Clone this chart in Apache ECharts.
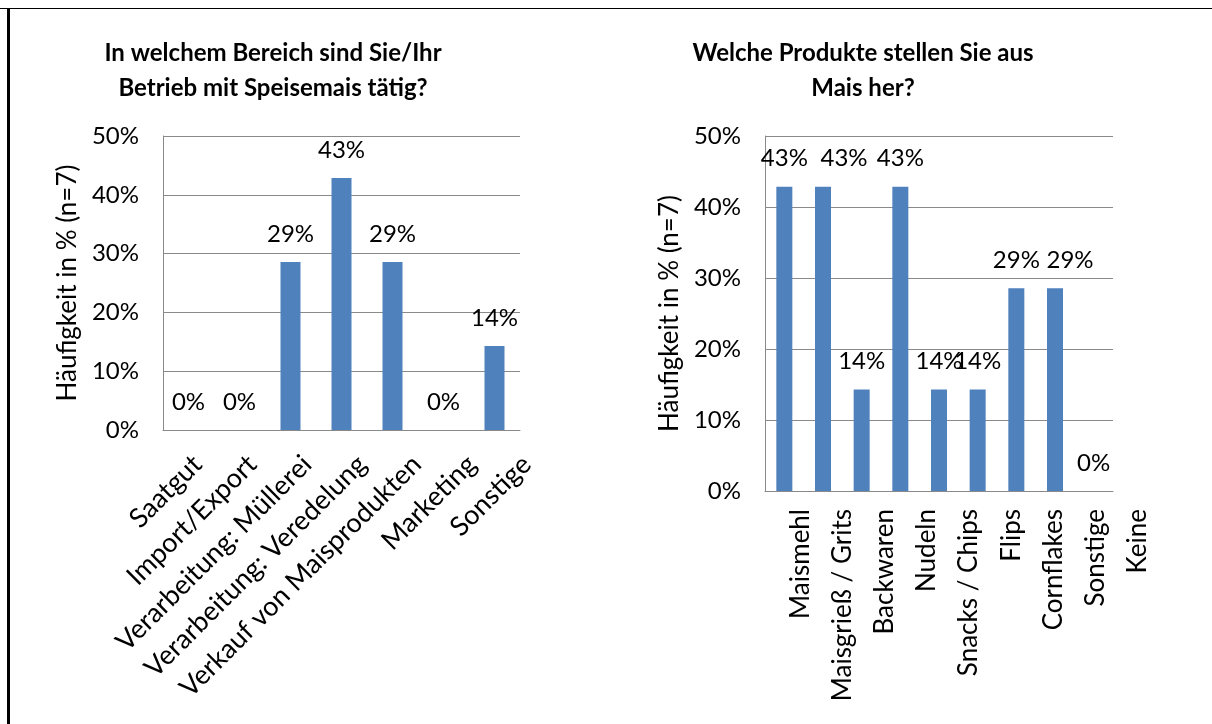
<!DOCTYPE html>
<html>
<head>
<meta charset="utf-8">
<script src="https://cdn.jsdelivr.net/npm/echarts@6/dist/echarts.min.js"></script>
<style>
  html, body { margin: 0; padding: 0; background: #fff; }
  #frame-top { position: absolute; left: 0; top: 8px; width: 1212px; height: 1px; background: #000; }
  #frame-left { position: absolute; left: 7px; top: 8px; width: 3px; height: 716px; background: #000; }
  #chart-1 { position: absolute; left: 0; top: 0; width: 606px; height: 724px; }
  #chart-2 { position: absolute; left: 606px; top: 0; width: 606px; height: 724px; }
</style>
</head>
<body>
<div id="frame-top"></div>
<div id="frame-left"></div>
<div id="chart-1"></div>
<div id="chart-2"></div>
<script>
// data (share of n=7, in %)
var leftCategories = ['Saatgut', 'Import/Export', 'Verarbeitung: Müllerei', 'Verarbeitung: Veredelung', 'Verkauf von Maisprodukten', 'Marketing', 'Sonstige'];
var leftValues = [0, 0, 28.57, 42.86, 28.57, 0, 14.29];

var rightCategories = ['Maismehl', 'Maisgrieß / Grits', 'Backwaren', 'Nudeln', 'Snacks / Chips', 'Flips', 'Cornflakes', 'Sonstige', 'Keine'];
var rightValues = [42.86, 42.86, 14.29, 42.86, 14.29, 14.29, 28.57, 28.57, 0];

var yMin = 0;
var yMax = 50;
var yStep = 10;
var yName = 'Häufigkeit in % (n=7)';

var font = 'Lato';
var gridColor = '#8a8a8a';
var barColor = '#4f81bd';

function valueAxis() {
    return {
        type: 'value',
        gridIndex: 0,
        min: yMin,
        max: yMax,
        interval: yStep,
        name: yName,
        nameLocation: 'middle',
        nameGap: 79,
        nameTextStyle: { fontFamily: font, fontSize: 26, color: '#000' },
        axisLine: { show: true, lineStyle: { color: gridColor, width: 1 } },
        axisTick: { show: false },
        axisLabel: { margin: 24, fontFamily: font, fontSize: 24, color: '#000', formatter: '{value}%' },
        splitLine: { show: true, lineStyle: { color: gridColor, width: 1 } }
    };
}

// shifts: a few value labels are nudged sideways so they don't collide (as in the original)
function barSeries(values, width, shifts) {
    shifts = shifts || {};
    return {
        type: 'bar',
        data: values.map(function (v, i) {
            return shifts[i] ? { value: v, label: { offset: [shifts[i], 0] } } : v;
        }),
        barWidth: width,
        itemStyle: { color: barColor },
        label: {
            show: true,
            position: 'top',
            distance: 16,
            fontFamily: font,
            fontSize: 24,
            color: '#000',
            formatter: function (p) { return Math.round(p.value) + '%'; }
        }
    };
}

//left chart
var myChart = echarts.init(document.getElementById('chart-1'));

    var option = {
        animation: false,
        title: {
            text: 'In welchem Bereich sind Sie/Ihr\nBetrieb mit Speisemais tätig?',
            left: 268,
            top: 31,
            textAlign: 'center',
            textStyle: { fontFamily: font, fontSize: 24, fontWeight: 'bold', lineHeight: 35, color: '#000' }
        },
        grid: [
            { left: 163, right: 86, top: 136, bottom: 294 },
            // labels in the reference are spread a bit wider than the bars
            { left: 170, right: 52, top: 136, bottom: 294 }
        ],
        xAxis: [{
            type: 'category',
            gridIndex: 0,
            data: leftCategories,
            axisLine: { show: true, lineStyle: { color: gridColor } },
            axisTick: { show: false },
            axisLabel: { show: false }
        }, {
            type: 'category',
            gridIndex: 1,
            data: leftCategories,
            axisLine: { show: false },
            axisTick: { show: false },
            axisLabel: { rotate: 45, margin: 30, interval: 0, fontFamily: font, fontSize: 27, color: '#000' }
        }],
        yAxis: [valueAxis(), { type: 'value', gridIndex: 1, show: false, min: yMin, max: yMax }],
        series: [barSeries(leftValues, 20)]
    };
myChart.setOption(option);

//right chart
var myChart = echarts.init(document.getElementById('chart-2'));

    var option = {
        animation: false,
        title: {
            text: 'Welche Produkte stellen Sie aus\nMais her?',
            left: 252,
            top: 31,
            textAlign: 'center',
            textStyle: { fontFamily: font, fontSize: 24, fontWeight: 'bold', lineHeight: 35, color: '#000' }
        },
        grid: [
            { left: 159, right: 99, top: 136, bottom: 233 },
            { left: 173, right: 53, top: 136, bottom: 233 }
        ],
        xAxis: [{
            type: 'category',
            gridIndex: 0,
            data: rightCategories,
            axisLine: { show: true, lineStyle: { color: gridColor } },
            axisTick: { show: false },
            axisLabel: { show: false }
        }, {
            type: 'category',
            gridIndex: 1,
            data: rightCategories,
            axisLine: { show: false },
            axisTick: { show: false },
            axisLabel: { rotate: 90, margin: 18, interval: 0, fontFamily: font, fontSize: 26, color: '#000' }
        }],
        yAxis: [valueAxis(), { type: 'value', gridIndex: 1, show: false, min: yMin, max: yMax }],
        series: [barSeries(rightValues, 16, { 1: 21, 7: 15 })]
    };
myChart.setOption(option);
</script>
</body>
</html>
